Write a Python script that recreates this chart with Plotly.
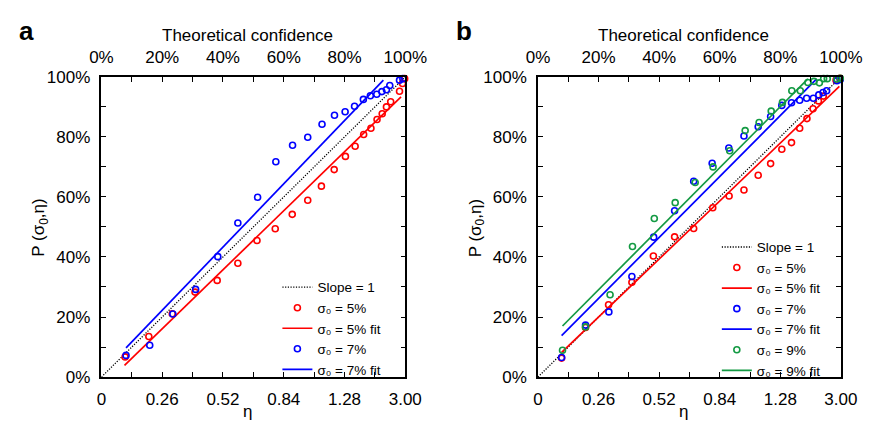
import plotly.graph_objects as go

# ---------------- data ----------------
# x = theoretical confidence (fraction), y = P(sigma0, eta) (fraction)
a_red_x = [0.078, 0.156, 0.233, 0.308, 0.381, 0.449, 0.512, 0.572, 0.628, 0.679, 0.724, 0.766, 0.803, 0.835, 0.863, 0.887, 0.907, 0.924, 0.938, 0.952, 0.981, 0.991, 0.998]
a_red_y = [0.067, 0.135, 0.211, 0.283, 0.322, 0.379, 0.455, 0.494, 0.542, 0.589, 0.636, 0.691, 0.735, 0.769, 0.808, 0.829, 0.858, 0.877, 0.900, 0.917, 0.952, 0.978, 0.994]
a_blue_x = [0.081, 0.159, 0.235, 0.310, 0.383, 0.449, 0.514, 0.574, 0.629, 0.679, 0.726, 0.767, 0.802, 0.833, 0.862, 0.885, 0.906, 0.923, 0.938, 0.949, 0.981, 0.992]
a_blue_y = [0.072, 0.106, 0.210, 0.292, 0.401, 0.513, 0.599, 0.717, 0.772, 0.799, 0.842, 0.872, 0.884, 0.902, 0.925, 0.937, 0.942, 0.951, 0.957, 0.971, 0.989, 0.994]

b_red_x = [0.078, 0.157, 0.233, 0.310, 0.381, 0.451, 0.514, 0.577, 0.631, 0.680, 0.727, 0.768, 0.805, 0.837, 0.864, 0.888, 0.908, 0.926, 0.942, 0.984, 0.997]
b_red_y = [0.063, 0.165, 0.241, 0.316, 0.403, 0.467, 0.495, 0.564, 0.603, 0.623, 0.672, 0.711, 0.759, 0.781, 0.829, 0.861, 0.894, 0.920, 0.936, 0.989, 0.995]
b_blue_x = [0.078, 0.157, 0.234, 0.310, 0.382, 0.451, 0.514, 0.575, 0.630, 0.680, 0.727, 0.768, 0.805, 0.837, 0.864, 0.887, 0.909, 0.927, 0.941, 0.953, 0.987, 0.998]
b_blue_y = [0.065, 0.173, 0.217, 0.335, 0.466, 0.554, 0.652, 0.712, 0.763, 0.803, 0.834, 0.868, 0.905, 0.914, 0.922, 0.929, 0.929, 0.940, 0.948, 0.954, 0.987, 0.991]
b_green_x = [0.081, 0.157, 0.238, 0.312, 0.384, 0.453, 0.519, 0.578, 0.633, 0.684, 0.730, 0.770, 0.807, 0.838, 0.866, 0.891, 0.911, 0.929, 0.943, 0.955, 0.987, 0.998]
b_green_y = [0.089, 0.167, 0.274, 0.435, 0.528, 0.581, 0.648, 0.700, 0.754, 0.821, 0.848, 0.886, 0.915, 0.954, 0.954, 0.981, 0.985, 0.980, 0.994, 0.994, 0.993, 0.995]

# fitted lines (end points)
a_red_fit_x, a_red_fit_y = [0.076, 0.986], [0.039, 0.933]
a_blue_fit_x, a_blue_fit_y = [0.081, 0.928], [0.097, 0.989]
b_red_fit_x, b_red_fit_y = [0.078, 0.995], [0.082, 0.968]
b_blue_fit_x, b_blue_fit_y = [0.078, 0.920], [0.138, 0.993]
b_green_fit_x, b_green_fit_y = [0.081, 0.891], [0.170, 0.993]

slope_x, slope_y = [0, 1], [0, 1]

major_pos = [0, 0.2, 0.4, 0.6, 0.8, 1.0]
minor_pos = [0.1, 0.3, 0.5, 0.7, 0.9]
eta_labels = ['0', '0.26', '0.52', '0.84', '1.28', '3.00']
pct_labels = ['0%', '20%', '40%', '60%', '80%', '100%']

RED, BLUE, GREEN = '#ff0000', '#0000ff', '#139a43'
FONT = 'Liberation Sans, Arial, sans-serif'
FS = 17
LFS = 13.5
DOT = '1.2px,1.5px'

fig = go.Figure()

def pts(x, y, color, name, xa, ya, leg, group):
    fig.add_trace(go.Scatter(x=x, y=y, mode='markers', name=name, xaxis=xa, yaxis=ya,
                             legend=leg, legendgroup=group, cliponaxis=False,
                             marker=dict(symbol='circle-open', size=6, color=color,
                                         line=dict(width=1.6, color=color))))

def fit(x, y, color, name, xa, ya, leg, group, dash='solid', width=1.7):
    fig.add_trace(go.Scatter(x=x, y=y, mode='lines', name=name, xaxis=xa, yaxis=ya,
                             legend=leg, legendgroup=group,
                             line=dict(color=color, width=width, dash=dash)))

s5 = 'σ₀ = 5%'
s7 = 'σ₀ = 7%'
s9 = 'σ₀ = 9%'

# panel a
fit(slope_x, slope_y, 'black', 'Slope = 1', 'x', 'y', 'legend', 'g', dash=DOT, width=1.3)
pts(a_red_x, a_red_y, RED, s5, 'x', 'y', 'legend', 'g')
fit(a_red_fit_x, a_red_fit_y, RED, s5 + ' fit', 'x', 'y', 'legend', 'g')
pts(a_blue_x, a_blue_y, BLUE, s7, 'x', 'y', 'legend', 'g')
fit(a_blue_fit_x, a_blue_fit_y, BLUE, s7 + ' fit', 'x', 'y', 'legend', 'g')

# panel b
fit(slope_x, slope_y, 'black', 'Slope = 1', 'x2', 'y2', 'legend2', 'h', dash=DOT, width=1.3)
pts(b_red_x, b_red_y, RED, s5, 'x2', 'y2', 'legend2', 'h')
fit(b_red_fit_x, b_red_fit_y, RED, s5 + ' fit', 'x2', 'y2', 'legend2', 'h')
pts(b_blue_x, b_blue_y, BLUE, s7, 'x2', 'y2', 'legend2', 'h')
fit(b_blue_fit_x, b_blue_fit_y, BLUE, s7 + ' fit', 'x2', 'y2', 'legend2', 'h')
pts(b_green_x, b_green_y, GREEN, s9, 'x2', 'y2', 'legend2', 'h')
fit(b_green_fit_x, b_green_fit_y, GREEN, s9 + ' fit', 'x2', 'y2', 'legend2', 'h')

# invisible traces so the top axes render
for xa, ya in (('x3', 'y'), ('x4', 'y2')):
    fig.add_trace(go.Scatter(x=[0, 1], y=[0, 1], xaxis=xa, yaxis=ya, mode='markers',
                             marker=dict(opacity=0), showlegend=False, hoverinfo='skip'))

W, H = 885, 431
ydom = [1 - 385 / H, 1 - 71 / H]
xdom_a = [93 / W, 409 / W]
xdom_b = [547 / W, 862 / W]

tf = dict(family=FONT, size=FS, color='black')
minor = dict(tickvals=minor_pos, ticks='inside', ticklen=5, tickwidth=1.2, tickcolor='black', showgrid=False)

def bottom_axis(dom, anchor):
    return dict(domain=dom, anchor=anchor, range=[0, 1], tickmode='array', tickvals=major_pos,
                ticktext=eta_labels, ticks='inside', ticklen=5, tickwidth=1.2, tickcolor='black',
                showline=True, linecolor='black', linewidth=1.5, mirror='ticks', minor=minor,
                showgrid=False, zeroline=False, tickfont=tf, ticklabelstandoff=6)

def top_axis(over, anchor):
    return dict(overlaying=over, anchor=anchor, side='top', range=[0, 1], tickmode='array',
                tickvals=major_pos, ticktext=pct_labels, ticks='', showline=False,
                showgrid=False, zeroline=False, tickfont=tf, ticklabelstandoff=9)

def y_axis(anchor):
    return dict(domain=ydom, anchor=anchor, range=[0, 1], tickmode='array', tickvals=major_pos,
                ticktext=pct_labels, ticks='inside', ticklen=5, tickwidth=1.2, tickcolor='black',
                showline=True, linecolor='black', linewidth=1.5, mirror='ticks', minor=minor,
                showgrid=False, zeroline=False, tickfont=tf, ticklabelstandoff=6)

leg_common = dict(font=dict(family=FONT, size=LFS, color='black'), bgcolor='rgba(0,0,0,0)',
                  traceorder='normal', tracegroupgap=0, itemwidth=30,
                  xanchor='left', yanchor='top')

fig.update_layout(
    width=W, height=H, margin=dict(l=0, r=0, t=0, b=0),
    paper_bgcolor='white', plot_bgcolor='white',
    font=dict(family=FONT, size=FS, color='black'),
    xaxis=bottom_axis(xdom_a, 'y'), yaxis=y_axis('x'),
    xaxis2=bottom_axis(xdom_b, 'y2'), yaxis2=y_axis('x2'),
    xaxis3=top_axis('x', 'y'), xaxis4=top_axis('x2', 'y2'),
    legend=dict(x=276 / W, y=1 - 275 / H, **leg_common),
    legend2=dict(x=733 / W, y=1 - 233 / H, **leg_common),
    showlegend=True,
)

ann = [
    dict(text='<b>a</b>', x=15 / W, y=1 - 23 / H, font=dict(family=FONT, size=26)),
    dict(text='<b>b</b>', x=470 / W, y=1 - 23 / H, font=dict(family=FONT, size=26)),
    dict(text='Theoretical confidence', x=245 / W, y=1 - 28 / H, font=tf),
    dict(text='Theoretical confidence', x=698 / W, y=1 - 28 / H, font=tf),
    dict(text='η', x=245 / W, y=1 - 421 / H, font=tf),
    dict(text='η', x=698 / W, y=1 - 421 / H, font=tf),
    dict(text='P (σ<sub>0</sub>,η)', x=29 / W, y=1 - 229 / H, font=tf, textangle=-90),
    dict(text='P (σ<sub>0</sub>,η)', x=483 / W, y=1 - 229 / H, font=tf, textangle=-90),
]
for a in ann:
    fig.add_annotation(xref='paper', yref='paper', showarrow=False,
                       xanchor='center', yanchor='middle', **a)

fig.write_html('out.html')
